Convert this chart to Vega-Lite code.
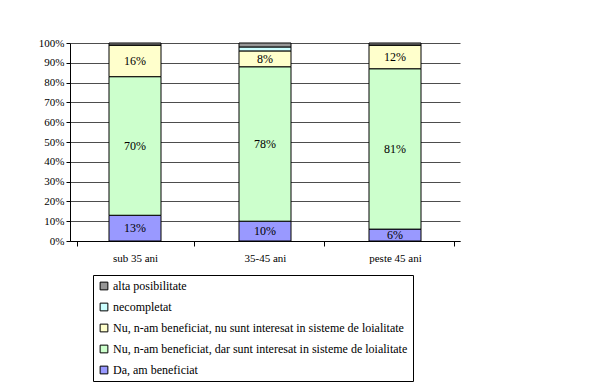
{
  "$schema": "https://vega.github.io/schema/vega-lite/v6.json",
  "autosize": {"type": "none"},
  "width": 390,
  "height": 198,
  "padding": {"left": 70, "top": 43, "right": 148, "bottom": 141},
  "background": "white",
  "config": {
    "font": "Liberation Serif",
    "view": {"stroke": null},
    "axis": {"labelFont": "Liberation Serif", "labelFontSize": 11, "labelColor": "black", "domainColor": "black", "tickColor": "black"},
    "legend": {"labelFont": "Liberation Serif", "labelFontSize": 12, "labelColor": "black"},
    "text": {"font": "Liberation Serif"}
  },
  "data": {
    "values": [
      {"grupa": "sub 35 ani", "raspuns": "Da, am beneficiat", "ord": 1, "val": 13},
      {"grupa": "sub 35 ani", "raspuns": "Nu, n-am beneficiat, dar sunt interesat in sisteme de loialitate", "ord": 2, "val": 70},
      {"grupa": "sub 35 ani", "raspuns": "Nu, n-am beneficiat, nu sunt interesat in sisteme de loialitate", "ord": 3, "val": 16},
      {"grupa": "sub 35 ani", "raspuns": "necompletat", "ord": 4, "val": 0},
      {"grupa": "sub 35 ani", "raspuns": "alta posibilitate", "ord": 5, "val": 1},
      {"grupa": "35-45 ani", "raspuns": "Da, am beneficiat", "ord": 1, "val": 10},
      {"grupa": "35-45 ani", "raspuns": "Nu, n-am beneficiat, dar sunt interesat in sisteme de loialitate", "ord": 2, "val": 78},
      {"grupa": "35-45 ani", "raspuns": "Nu, n-am beneficiat, nu sunt interesat in sisteme de loialitate", "ord": 3, "val": 8},
      {"grupa": "35-45 ani", "raspuns": "necompletat", "ord": 4, "val": 2},
      {"grupa": "35-45 ani", "raspuns": "alta posibilitate", "ord": 5, "val": 2},
      {"grupa": "peste 45 ani", "raspuns": "Da, am beneficiat", "ord": 1, "val": 6},
      {"grupa": "peste 45 ani", "raspuns": "Nu, n-am beneficiat, dar sunt interesat in sisteme de loialitate", "ord": 2, "val": 81},
      {"grupa": "peste 45 ani", "raspuns": "Nu, n-am beneficiat, nu sunt interesat in sisteme de loialitate", "ord": 3, "val": 12},
      {"grupa": "peste 45 ani", "raspuns": "necompletat", "ord": 4, "val": 0},
      {"grupa": "peste 45 ani", "raspuns": "alta posibilitate", "ord": 5, "val": 1}
    ]
  },
  "transform": [
    {"stack": "val", "groupby": ["grupa"], "sort": [{"field": "ord", "order": "ascending"}], "as": ["y0", "y1"]},
    {"calculate": "(datum.y0 + datum.y1) / 2", "as": "ymid"},
    {"calculate": "datum.val + '%'", "as": "eticheta"}
  ],
  "encoding": {
    "x": {
      "field": "grupa", "type": "nominal",
      "sort": ["sub 35 ani", "35-45 ani", "peste 45 ani"],
      "axis": {"title": null, "labelAngle": 0, "labelPadding": 6, "tickSize": 5, "tickBand": "extent", "labelFont": "Liberation Serif"}
    }
  },
  "layer": [
    {
      "mark": {"type": "bar", "size": 52, "stroke": "black", "strokeWidth": 1},
      "encoding": {
        "y": {
          "field": "y0", "type": "quantitative",
          "scale": {"domain": [0, 100]},
          "axis": {"title": null, "values": [0,10,20,30,40,50,60,70,80,90,100], "labelExpr": "datum.value + '%'", "grid": true, "gridColor": "black", "gridWidth": 0.7, "tickSize": 4, "labelFont": "Liberation Serif"}
        },
        "y2": {"field": "y1"},
        "color": {
          "field": "raspuns", "type": "nominal",
          "scale": {
            "domain": ["alta posibilitate", "necompletat", "Nu, n-am beneficiat, nu sunt interesat in sisteme de loialitate", "Nu, n-am beneficiat, dar sunt interesat in sisteme de loialitate", "Da, am beneficiat"],
            "range": ["#969696", "#CCFFFF", "#FFFFCC", "#CCFFCC", "#9999FF"]
          },
          "legend": {
            "title": null, "orient": "none", "legendX": 23, "legendY": 232,
            "symbolType": "square", "symbolSize": 60, "symbolStrokeColor": "black", "symbolStrokeWidth": 1,
            "labelFont": "Liberation Serif", "labelFontSize": 12, "labelColor": "black", "labelLimit": 400,
            "rowPadding": 9, "padding": 5, "strokeColor": "black", "fillColor": "white", "labelOffset": 3
          }
        }
      }
    },
    {
      "transform": [{"filter": "datum.ord <= 3"}],
      "mark": {"type": "text", "font": "Liberation Serif", "fontSize": 12, "color": "black"},
      "encoding": {
        "y": {"field": "ymid", "type": "quantitative", "axis": {"title": null, "values": [0,10,20,30,40,50,60,70,80,90,100], "labelExpr": "datum.value + '%'", "grid": true, "gridColor": "black", "gridWidth": 0.7, "tickSize": 4, "labelFont": "Liberation Serif"}},
        "text": {"field": "eticheta", "type": "nominal"}
      }
    }
  ]
}
